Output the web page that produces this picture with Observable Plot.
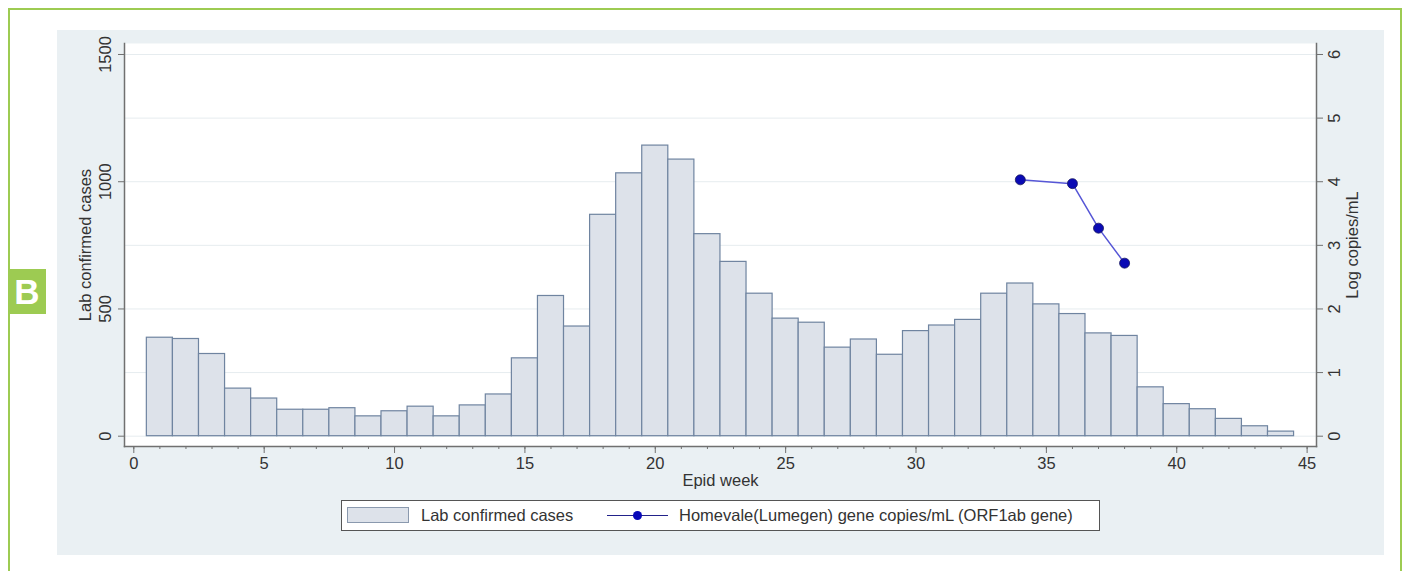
<!DOCTYPE html>
<html>
<head>
<meta charset="utf-8">
<script src="https://cdn.jsdelivr.net/npm/d3@7"></script>
<script src="https://cdn.jsdelivr.net/npm/@observablehq/plot@0.6"></script>
<style>
  body { margin: 0; background: #ffffff; font-family: "Liberation Sans", Arial, sans-serif; }
  #wrap { position: relative; width: 1407px; height: 571px; overflow: hidden; background: #fff; }
  #border { position: absolute; left: 8px; top: 8px; width: 1394px; height: 600px; border: 2px solid #9dcb52; border-bottom: none; box-sizing: border-box; }
  #panel { position: absolute; left: 57px; top: 30px; width: 1327px; height: 525px; background: #eaf0f3; }
  #tag { position: absolute; left: 8px; top: 269px; width: 38px; height: 45px; background: #9dcb52; color: #fff; font-weight: bold; font-size: 35px; line-height: 45px; text-align: center; }
  #chart { position: absolute; left: 0; top: 0; }
  #legend { position: absolute; left: 341px; top: 500px; width: 759px; height: 31px; box-sizing: border-box; border: 1px solid #555; background: #fff; font-size: 16.5px; color: #333; }
  #legend .sw { position: absolute; left: 5px; top: 6px; width: 62px; height: 16px; box-sizing: border-box; background: #dde2ea; border: 1px solid #8a99ae; }
  #legend .t1 { position: absolute; left: 79px; top: 5px; line-height: 19px; }
  #legend .ln { position: absolute; left: 265px; top: 14px; width: 61px; height: 0; border-top: 1.5px solid #22228a; }
  #legend .dot { position: absolute; left: 291px; top: 10px; width: 9px; height: 9px; border-radius: 50%; background: #0808b8; }
  #legend .t2 { position: absolute; left: 337px; top: 5px; line-height: 19px; }
</style>
</head>
<body>
<div id="wrap">
  <div id="border"></div>
  <div id="panel"></div>
  <div id="tag">B</div>
  <div id="chart"></div>
  <div id="legend">
    <div class="sw"></div><div class="t1">Lab confirmed cases</div>
    <div class="ln"></div><div class="dot"></div>
    <div class="t2">Homevale(Lumegen) gene copies/mL (ORF1ab gene)</div>
  </div>
</div>
<script>
// Data
const weeks = [1,2,3,4,5,6,7,8,9,10,11,12,13,14,15,16,17,18,19,20,21,22,23,24,25,26,27,28,29,30,31,32,33,34,35,36,37,38,39,40,41,42,43,44];
const cases = [387,382,323,187,148,104,104,110,78,98,116,78,121,164,306,551,431,870,1033,1142,1087,794,685,560,462,446,348,380,320,413,435,457,560,600,518,480,404,394,192,126,106,68,39,18];
const lineWeeks = [34,36,37,38];
const logCopies = [4.03,3.97,3.27,2.72];
const leftTicks = [0,500,1000,1500];
const rightTicks = [0,1,2,3,4,5,6];
const xMajorTicks = [0,5,10,15,20,25,30,35,40,45];
const xMinorTicks = [0,1,2,3,4,5,6,7,8,9,10,11,12,13,14,15,16,17,18,19,20,21,22,23,24,25,26,27,28,29,30,31,32,33,34,35,36,37,38,39,40,41,42,43,44,45];

const ratio = 1500 / 6; // right axis (log copies/mL) to left axis (cases)

const bars = weeks.map((w, i) => ({week: w, cases: cases[i]}));
const pts = lineWeeks.map((w, i) => ({week: w, v: logCopies[i] * ratio}));

const axisColor = "#707070";
const textColor = "#333333";

const chart = Plot.plot({
  width: 1407,
  height: 571,
  marginLeft: 124,
  marginRight: 91,
  marginTop: 43,
  marginBottom: 125,
  style: {fontFamily: "Liberation Sans, Arial, sans-serif", fontSize: "16.5px", background: "transparent", color: textColor, overflow: "visible"},
  x: {domain: [-0.357, 45.36], axis: null},
  y: {domain: [-40.5, 1543.2], axis: null},
  marks: [
    Plot.frame({fill: "white", stroke: "none"}),
    Plot.gridY(rightTicks.map(t => t * ratio), {stroke: "#e6ecef", strokeOpacity: 1, strokeWidth: 1}),
    Plot.rectY(bars, {x1: d => d.week - 0.5, x2: d => d.week + 0.5, y1: 0, y2: "cases", fill: "#dde2ea", stroke: "#6f84a0", strokeWidth: 1.2}),
    Plot.line(pts, {x: "week", y: "v", stroke: "#5656d6", strokeWidth: 1.5}),
    Plot.dot(pts, {x: "week", y: "v", r: 5, fill: "#0a0ab4", stroke: "#1a1a60", strokeWidth: 0.8}),
    Plot.frame({anchor: "left", stroke: axisColor, strokeWidth: 1.5}),
    Plot.frame({anchor: "right", stroke: axisColor, strokeWidth: 1.5}),
    Plot.frame({anchor: "bottom", stroke: axisColor, strokeWidth: 1.5}),
    Plot.axisY(leftTicks, {anchor: "left", tickSize: 6, tickRotate: -90, tickPadding: 8, tickFormat: d => String(d), label: null, stroke: axisColor, fill: textColor}),
    Plot.axisY(rightTicks.map(t => t * ratio), {anchor: "right", tickSize: 6, tickRotate: -90, tickPadding: 6, lineAnchor: "top", tickFormat: d => String(d / ratio), label: null, stroke: axisColor, fill: textColor}),
    Plot.axisX(xMinorTicks, {anchor: "bottom", tickSize: 3, tickFormat: () => "", label: null, stroke: axisColor}),
    Plot.axisX(xMajorTicks, {anchor: "bottom", tickSize: 7, tickPadding: 4, tickFormat: d => String(d), label: null, stroke: axisColor, fill: textColor}),
    Plot.text(["Lab confirmed cases"], {frameAnchor: "left", dx: -39, rotate: -90, textAnchor: "middle", lineAnchor: "middle", fontSize: 16.5, fill: textColor}),
    Plot.text(["Log copies/mL"], {frameAnchor: "right", dx: 36, rotate: -90, textAnchor: "middle", lineAnchor: "middle", fontSize: 16.5, fill: textColor}),
    Plot.text(["Epid week"], {frameAnchor: "bottom", dy: 34, textAnchor: "middle", lineAnchor: "middle", fontSize: 16.5, fill: textColor})
  ]
});
document.getElementById("chart").appendChild(chart);
</script>
</body>
</html>
